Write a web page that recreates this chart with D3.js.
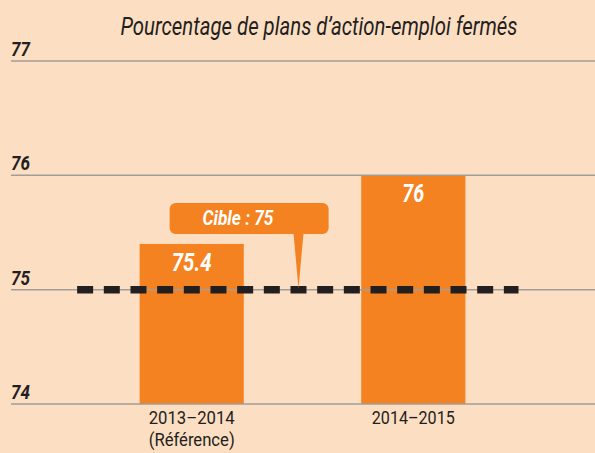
<!DOCTYPE html>
<html>
<head>
<meta charset="utf-8">
<script src="https://cdn.jsdelivr.net/npm/d3@7"></script>
<style>
  body { margin: 0; background: #fcdec3; }
  svg { display: block; }
</style>
</head>
<body>
<script>
// chart data
var categories = ["2013–2014", "2014–2015"];
var categorySubLabels = ["(Référence)", ""];
var values = [75.4, 76];
var valueLabels = ["75.4", "76"];
var yTicks = [74, 75, 76, 77];
var target = 75;
var targetLabel = "Cible : 75";
var title = "Pourcentage de plans d\u2019action-emploi fermés";

var width = 595, height = 453;
var font = "Roboto, 'Noto Sans', sans-serif";

// squeeze a text to a width so it looks like the condensed face of the original
function condense(sel, w) {
    sel.attr("textLength", w).attr("lengthAdjust", "spacingAndGlyphs");
}

var svg = d3.select("body").append("svg")
    .attr("width", width)
    .attr("height", height);

svg.append("rect")
    .attr("width", width)
    .attr("height", height)
    .attr("fill", "#fcdec3"); // peach background

// scales
var x = d3.scaleBand()
    .domain(categories)
    .range([10, 595])
    .paddingInner(0.53)
    .paddingOuter(0.585);
var y = d3.scaleLinear()
    .domain([74, 77])
    .range([404, 61]);

// title
svg.append("text")
    .attr("x", 319)
    .attr("y", 35)
    .attr("text-anchor", "middle")
    .style("font-family", font)
    .style("font-style", "italic")
    .style("font-size", "25px")
    .style("fill", "#231f20")
    .text(title)
    .call(condense, 397);

// bars
svg.selectAll("rect.bar")
    .data(values)
    .enter()
    .append("rect")
    .attr("class", "bar")
    .attr("x", function (d, i) { return x(categories[i]) })
    .attr("y", function (d) { return y(d) })
    .attr("width", x.bandwidth())
    .attr("height", function (d) { return y(74) - y(d) })
    .attr("fill", "#f58220");

// grid lines over the bars
svg.selectAll("line.grid")
    .data(yTicks)
    .enter()
    .append("line")
    .attr("class", "grid")
    .attr("x1", 11)
    .attr("x2", width)
    .attr("y1", function (d) { return y(d) })
    .attr("y2", function (d) { return y(d) })
    .style("stroke", "#a19d99")
    .style("stroke-width", 1.5);

// tick labels
svg.selectAll("text.tick")
    .data(yTicks)
    .enter()
    .append("text")
    .attr("class", "tick")
    .attr("x", 11)
    .attr("y", function (d) { return y(d) - 5 })
    .style("font-family", font)
    .style("font-style", "italic")
    .style("font-weight", "bold")
    .style("font-size", "20px")
    .style("fill", "#231f20")
    .text(function (d) { return d })
    .each(function () { condense(d3.select(this), 19); });

// target dashed line
var dashStart = x(categories[0]) - 0.6 * x.bandwidth();
var dashEnd = x(categories[1]) + 1.51 * x.bandwidth();
svg.append("line")
    .attr("x1", dashStart)
    .attr("x2", dashEnd)
    .attr("y1", y(target))
    .attr("y2", y(target))
    .style("stroke", "#231f20")
    .style("stroke-width", 7.5)
    .style("stroke-dasharray", "16 10.67");

// callout
var tipX = (x(categories[0]) + x.bandwidth() + x(categories[1])) / 2 - 4;
var boxX = x(categories[0]) + 30, boxW = 159, boxY = 203, boxH = 31;
svg.append("rect")
    .attr("x", boxX)
    .attr("y", boxY)
    .attr("width", boxW)
    .attr("height", boxH)
    .attr("rx", 6)
    .attr("fill", "#f58220");
svg.append("path")
    .attr("d", "M" + (tipX - 5) + "," + (boxY + boxH - 1) +
        "L" + (tipX + 5) + "," + (boxY + boxH - 1) +
        "L" + tipX + "," + (y(target) - 1) + "Z")
    .attr("fill", "#f58220");
svg.append("text")
    .attr("x", 238)
    .attr("y", 225)
    .attr("text-anchor", "middle")
    .style("font-family", font)
    .style("font-style", "italic")
    .style("font-weight", "bold")
    .style("font-size", "21px")
    .style("fill", "#ffffff")
    .text(targetLabel)
    .call(condense, 71);

// value labels inside bars
var valueWidths = [40, 22];
svg.selectAll("text.value")
    .data(values)
    .enter()
    .append("text")
    .attr("class", "value")
    .attr("x", function (d, i) { return x(categories[i]) + x.bandwidth() / 2 })
    .attr("y", function (d) { return y(d) + 27 })
    .attr("text-anchor", "middle")
    .style("font-family", font)
    .style("font-style", "italic")
    .style("font-weight", "bold")
    .style("font-size", "25px")
    .style("fill", "#ffffff")
    .text(function (d, i) { return valueLabels[i] })
    .each(function (d, i) { condense(d3.select(this), valueWidths[i]); });

// category labels
var catWidths = [86, 83], subWidths = [86, 0];
var cat = svg.selectAll("g.cat")
    .data(categories)
    .enter()
    .append("g")
    .attr("class", "cat");
cat.append("text")
    .attr("x", function (d) { return x(d) + x.bandwidth() / 2 })
    .attr("y", 424)
    .attr("text-anchor", "middle")
    .style("font-family", font)
    .style("font-size", "19px")
    .style("fill", "#231f20")
    .text(function (d) { return d })
    .each(function (d, i) { condense(d3.select(this), catWidths[i]); });
cat.filter(function (d, i) { return categorySubLabels[i] !== "" })
    .append("text")
    .attr("x", function (d) { return x(d) + x.bandwidth() / 2 })
    .attr("y", 446)
    .attr("text-anchor", "middle")
    .style("font-family", font)
    .style("font-size", "19px")
    .style("fill", "#231f20")
    .text(function (d) { return categorySubLabels[categories.indexOf(d)] })
    .each(function (d) { condense(d3.select(this), subWidths[categories.indexOf(d)]); });
</script>
</body>
</html>
